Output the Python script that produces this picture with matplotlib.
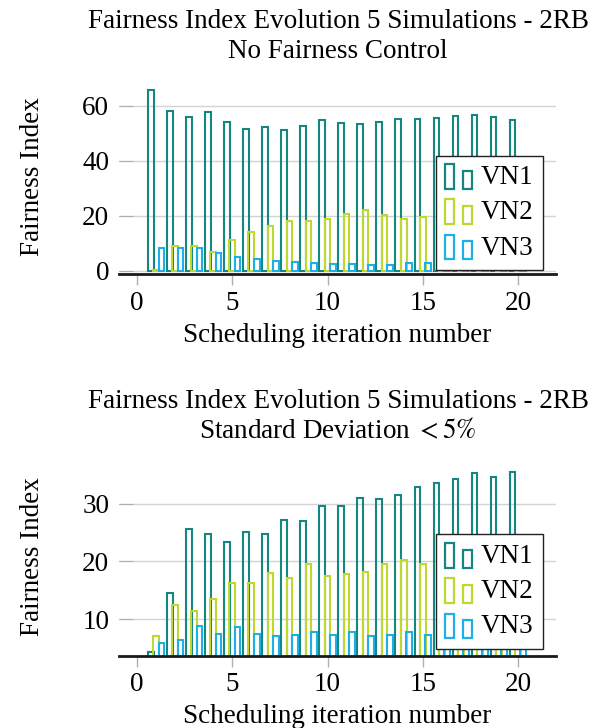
import numpy as np
import matplotlib
matplotlib.use("Agg")
import matplotlib.pyplot as plt
from matplotlib.patches import Rectangle
from matplotlib.legend_handler import HandlerBase

plt.rcParams['font.family'] = ['Liberation Serif', 'DejaVu Serif']
plt.rcParams['mathtext.fontset'] = 'stix'

iterations = list(range(1, 21))
series_names = ["VN1", "VN2", "VN3"]
colors = ["#138780", "#BFD72F", "#1CB0E8"]

# Top chart: No Fairness Control
top_vn1 = [65.7, 58.1, 55.8, 57.8, 54.2, 51.6, 52.2, 51.0, 52.6, 54.9,
           53.8, 53.5, 54.2, 55.3, 55.0, 55.4, 56.4, 56.5, 56.0, 54.9]
top_vn2 = [0.2, 9.1, 9.0, 6.8, 11.3, 14.2, 16.1, 18.2, 18.2, 18.7,
           20.7, 21.9, 20.4, 18.9, 19.4, 19.5, 19.8, 20.0, 19.6, 19.9]
top_vn3 = [8.2, 8.4, 8.4, 6.3, 5.1, 4.2, 3.6, 3.3, 2.9, 2.5,
           2.4, 2.2, 2.2, 2.9, 2.7, 2.5, 2.4, 2.4, 2.3, 2.3]

# Bottom chart: Standard Deviation < 5%
bot_vn1 = [4.28, 14.57, 25.66, 24.68, 23.41, 25.14, 24.74, 27.23, 26.94, 29.65,
           29.54, 30.92, 30.87, 31.56, 32.95, 33.58, 34.28, 35.26, 34.62, 35.55]
bot_vn2 = [7.1, 12.49, 11.39, 13.53, 16.24, 16.30, 18.03, 17.05, 19.54, 17.51,
           17.80, 18.21, 19.48, 20.23, 19.60, 19.8, 19.5, 20.1, 19.7, 20.0]
bot_vn3 = [5.84, 6.36, 8.84, 7.46, 8.67, 7.40, 7.0, 7.28, 7.69, 7.28,
           7.80, 7.05, 7.28, 7.80, 7.28, 7.3, 7.2, 7.4, 7.3, 7.2]

top_yticks = [0, 20, 40, 60]
bot_yticks = [10, 20, 30]
xticks = [0, 5, 10, 15, 20]

title_top = ["Fairness Index Evolution 5 Simulations - 2RB", "No Fairness Control"]
title_bot = ["Fairness Index Evolution 5 Simulations - 2RB", r"Standard Deviation $< 5\%$"]

FS = 19.5


class TwoBarHandler(HandlerBase):
    def __init__(self, color):
        super().__init__()
        self.color = color

    def create_artists(self, legend, orig_handle, xdescent, ydescent, width,
                       height, fontsize, trans):
        w = width * 0.3
        r1 = Rectangle((-xdescent + width * 0.0, -ydescent - height * 0.25), w, height * 1.3,
                       fill=False, edgecolor=self.color, linewidth=1.6, transform=trans)
        r2 = Rectangle((-xdescent + width * 0.62, -ydescent - height * 0.25), w * 1.1, height * 0.95,
                       fill=False, edgecolor=self.color, linewidth=1.6, transform=trans)
        return [r1, r2]


fig = plt.figure(figsize=(6.0, 7.28), dpi=100)
W, H = 600.0, 728.0


def make_axes(px_left, px_right, px_top, px_bottom):
    return fig.add_axes([px_left / W, 1 - px_bottom / H,
                         (px_right - px_left) / W, (px_bottom - px_top) / H])


def draw(ax, data, ylim, yticks, legend_anchor):
    x = np.array(iterations, dtype=float)
    offsets = [-0.28, 0.0, 0.28]
    handles = []
    for vals, off, c, name in zip(data, offsets, colors, series_names):
        b = ax.bar(x + off, vals, width=0.3, fill=False, edgecolor=c,
                   linewidth=1.5, label=name, zorder=2)
        handles.append(b)
    ax.set_xlim(-0.95, 22.0)
    ax.set_ylim(*ylim)
    ax.set_yticks(yticks)
    ax.set_xticks(xticks)
    ax.yaxis.grid(True, color="#d4d4d4", linewidth=1.0, zorder=0)
    ax.set_axisbelow(True)
    for s in ["top", "right", "left"]:
        ax.spines[s].set_visible(False)
    ax.spines["bottom"].set_linewidth(2.0)
    ax.spines["bottom"].set_color("#1a1a1a")
    ax.spines["bottom"].set_zorder(3)
    ax.tick_params(axis="y", direction="in", length=10, color="#b0b0b0",
                   labelsize=FS, pad=7)
    ax.tick_params(axis="x", direction="out", length=8, color="#b0b0b0",
                   labelsize=FS, pad=4, width=1.0)
    ax.set_xlabel("Scheduling iteration number", fontsize=FS, labelpad=5)
    ax.set_ylabel("Fairness Index", fontsize=FS, labelpad=27)
    hmap = {h: TwoBarHandler(c) for h, c in zip(handles, colors)}
    leg = ax.legend(handles=handles, labels=series_names, handler_map=hmap,
                    loc="lower right", bbox_to_anchor=legend_anchor,
                    fontsize=FS, frameon=True, fancybox=False, framealpha=1.0,
                    edgecolor="#222222", borderaxespad=0, handlelength=1.05,
                    handletextpad=0.25, labelspacing=0.38, borderpad=0.35)
    leg.get_frame().set_linewidth(1.0)
    leg.set_zorder(5)


ax1 = make_axes(119, 556, 78.2, 274.0)
draw(ax1, [top_vn1, top_vn2, top_vn3], (-1.2, 70), top_yticks, (0.97, 0.02))

ax2 = make_axes(119, 556, 457.6, 655.7)
draw(ax2, [bot_vn1, bot_vn2, bot_vn3], (3.64, 38), bot_yticks, (0.97, 0.034))

cx = 338 / W
fig.text(cx, 1 - 22 / H, title_top[0], ha="center", va="center", fontsize=FS)
fig.text(cx, 1 - 52 / H, title_top[1], ha="center", va="center", fontsize=FS)
fig.text(cx, 1 - 402 / H, title_bot[0], ha="center", va="center", fontsize=FS)
fig.text(cx, 1 - 432 / H, title_bot[1], ha="center", va="center", fontsize=FS)

fig.savefig("out.png", dpi=100, facecolor="white")
